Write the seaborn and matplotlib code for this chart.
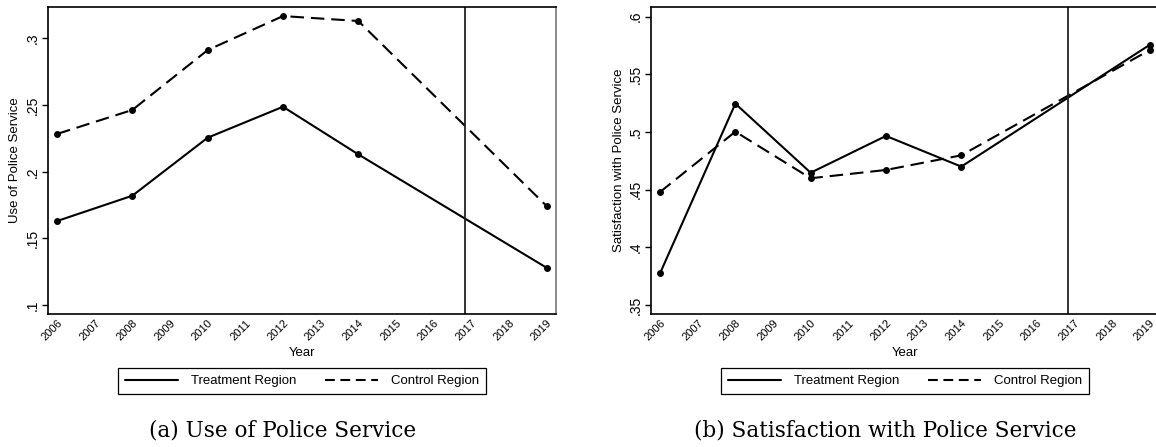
import matplotlib
matplotlib.use("Agg")
import matplotlib.pyplot as plt
import seaborn as sns
import pandas as pd
from matplotlib.lines import Line2D

years = [2006, 2008, 2010, 2012, 2014, 2019]
use_treatment = [0.163, 0.182, 0.2255, 0.2487, 0.213, 0.128]
use_control = [0.2283, 0.2463, 0.2912, 0.3167, 0.313, 0.1743]
sat_treatment = [0.3775, 0.5246, 0.4647, 0.4966, 0.470, 0.5755]
sat_control = [0.448, 0.5003, 0.4599, 0.4671, 0.4798, 0.571]
tick_years = list(range(2006, 2020))
use_ticks = [0.1, 0.15, 0.2, 0.25, 0.3]
use_ticklabels = [".1", ".15", ".2", ".25", ".3"]
sat_ticks = [0.35, 0.4, 0.45, 0.5, 0.55, 0.6]
sat_ticklabels = [".35", ".4", ".45", ".5", ".55", ".6"]
regions = ["Treatment Region", "Control Region"]
policy_year = 2016.83

sns.set_theme(style="white")
plt.rcParams['font.family'] = ['Liberation Sans', 'DejaVu Sans']
for k in ["text.color", "axes.labelcolor", "xtick.color", "ytick.color"]:
    plt.rcParams[k] = "black"

def long_df(t, c):
    return pd.DataFrame({
        "Year": years + years,
        "value": t + c,
        "Region": [regions[0]] * len(years) + [regions[1]] * len(years),
    })

fig = plt.figure(figsize=(11.56, 4.47), dpi=100)
W, H = 1156, 447
ax1 = fig.add_axes([48 / W, (H - 314) / H, 508 / W, 307 / H])
ax2 = fig.add_axes([651 / W, (H - 314) / H, 508 / W, 307 / H])

panels = [
    (ax1, long_df(use_treatment, use_control), "Use of Police Service", use_ticks, use_ticklabels, (0.0933, 0.3235)),
    (ax2, long_df(sat_treatment, sat_control), "Satisfaction with Police Service", sat_ticks, sat_ticklabels, (0.3422, 0.6084)),
]

for ax, df, ylabel, yt, ytl, ylim in panels:
    sns.lineplot(data=df, x="Year", y="value", style="Region", style_order=regions,
                 markers={regions[0]: "o", regions[1]: "o"},
                 dashes={regions[0]: "", regions[1]: (6.5, 3.3)},
                 color="black", linewidth=1.5, markersize=5, markeredgewidth=0,
                 ax=ax, legend=False)
    ax.axvline(policy_year, color="#222222", linewidth=1.3)
    ax.set_xlim(2005.76, 2019.25)
    ax.set_ylim(*ylim)
    ax.set_xticks(tick_years)
    ax.set_xticklabels([str(y) for y in tick_years], rotation=45, ha="right",
                       rotation_mode="anchor", fontsize=8)
    ax.set_yticks(yt)
    ax.set_yticklabels(ytl, rotation=90, va="center", fontsize=10)
    ax.tick_params(axis="y", direction="out", length=4, width=1, color="black", pad=2, left=True)
    ax.tick_params(axis="x", length=0, pad=3)
    ax.set_xlabel("Year", fontsize=9.5, labelpad=3)
    ax.set_ylabel(ylabel, fontsize=9.5, labelpad=3)
    for s in ax.spines.values():
        s.set_color("black")
        s.set_linewidth(1.2)
        s.set_visible(True)
    ax.grid(False)

ax1.spines["right"].set_color("#777777")

handles = [
    Line2D([], [], color="black", linewidth=1.5, linestyle="-"),
    Line2D([], [], color="black", linewidth=1.5, linestyle=(0, (4.7, 2.7))),
]
for cx in [302 / W, 905 / W]:
    leg = fig.legend(handles, regions, loc="center", bbox_to_anchor=(cx, (H - 381) / H),
                     ncol=2, frameon=True, fancybox=False, edgecolor="black",
                     fontsize=9.5, handlelength=4.0, columnspacing=2.2, handletextpad=1.0,
                     borderpad=0.5, framealpha=1)
    leg.get_frame().set_linewidth(0.9)

fig.text(283 / W, (H - 430) / H, "(a) Use of Police Service", ha="center", va="center",
         fontsize=15.5, family=["DejaVu Serif"])
fig.text(885 / W, (H - 430) / H, "(b) Satisfaction with Police Service", ha="center", va="center",
         fontsize=15.5, family=["DejaVu Serif"])

fig.savefig("out.png", dpi=100)
